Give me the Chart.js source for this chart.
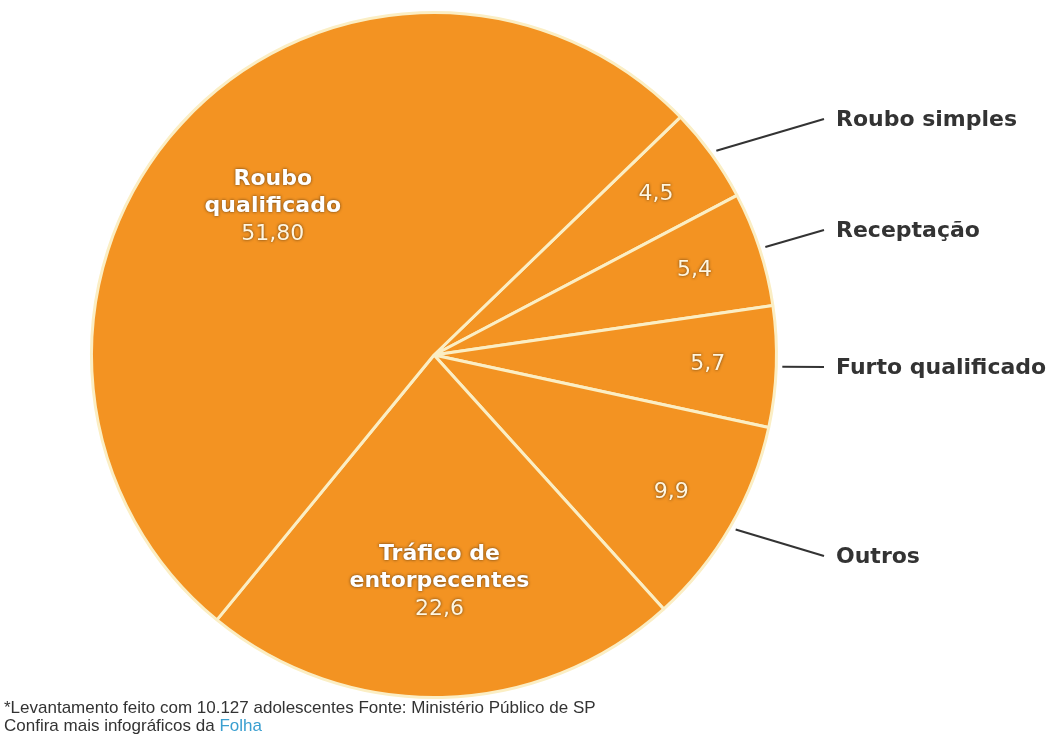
<!DOCTYPE html>
<html>
<head>
<meta charset="utf-8">
<script src="https://cdn.jsdelivr.net/npm/chart.js@4.4.0/dist/chart.umd.min.js"></script>
<style>
  html, body { margin: 0; padding: 0; background: #fff; }
  #wrap { position: relative; width: 1062px; height: 744px; }
  #note { position: absolute; left: 4px; top: 699px; font: 17px "Liberation Sans", Arial, sans-serif; color: #333; line-height: 18px; }
  #note span { color: #3a9fd0; }
</style>
</head>
<body>
<div id="wrap">
  <canvas id="pie" width="1062" height="744"></canvas>
  <div id="note">*Levantamento feito com 10.127 adolescentes Fonte: Ministério Público de SP<br>Confira mais infográficos da <span>Folha</span></div>
</div>
<script>
// data, clockwise from the Roubo simples slice
const categories = ['Roubo simples', 'Receptação', 'Furto qualificado', 'Outros', 'Tráfico de entorpecentes', 'Roubo qualificado'];
const values = [4.5, 5.4, 5.7, 9.9, 22.6, 51.8];
const valueLabels = ['4,5', '5,4', '5,7', '9,9', '22,6', '51,80'];
const insideTitles = [null, null, null, null, ['Tráfico de', 'entorpecentes'], ['Roubo', 'qualificado']];
const outsideLabels = [true, true, true, true, false, false];

// layout: where the labels sit
const insideRadius = [0.80, 0.80, 0.80, 0.80, 0.66, 0.64];
const outsideY = [119, 230, 367, 556];
const labelX = 836;

const orange = '#f39322';
const boldFont = 'bold 22px "DejaVu Sans", sans-serif';
const valueFont = '22px "DejaVu Sans", sans-serif';

function polar(arc, r, ang) {
  // chart.js angles: 0 = 3 o'clock, clockwise
  return { x: arc.x + r * Math.cos(ang), y: arc.y + r * Math.sin(ang) };
}

const labelPlugin = {
  id: 'sliceLabels',
  afterDatasetsDraw(chart) {
    const ctx = chart.ctx;
    const arcs = chart.getDatasetMeta(0).data;
    ctx.save();
    arcs.forEach((arc, i) => {
      const mid = (arc.startAngle + arc.endAngle) / 2;
      const R = arc.outerRadius;
      const c = polar(arc, R * insideRadius[i], mid);
      ctx.textAlign = 'center';
      ctx.textBaseline = 'middle';
      ctx.shadowColor = 'rgba(70,45,20,0.9)';
      ctx.shadowBlur = 3;
      if (insideTitles[i]) {
        const lines = insideTitles[i];
        const top = c.y - 27;
        ctx.font = boldFont;
        ctx.fillStyle = '#fff';
        lines.forEach((t, k) => ctx.fillText(t, c.x, top + k * 27));
        ctx.font = valueFont;
        ctx.fillStyle = '#fff6e0';
        ctx.fillText(valueLabels[i], c.x, top + lines.length * 27 + 1);
      } else {
        ctx.font = valueFont;
        ctx.fillStyle = '#fff6e0';
        ctx.fillText(valueLabels[i], c.x, c.y);
      }
      ctx.shadowBlur = 0;
      ctx.shadowColor = 'transparent';
      if (outsideLabels[i]) {
        const p = polar(arc, R + 6, mid);
        const ly = outsideY[i];
        ctx.strokeStyle = '#333';
        ctx.lineWidth = 2;
        ctx.beginPath();
        ctx.moveTo(p.x, p.y);
        ctx.lineTo(labelX - 12, ly);
        ctx.stroke();
        ctx.fillStyle = '#333';
        ctx.textAlign = 'left';
        ctx.font = boldFont;
        ctx.fillText(categories[i], labelX, ly + 1);
      }
    });
    ctx.restore();
  }
};

new Chart(document.getElementById('pie'), {
  type: 'pie',
  data: {
    labels: categories,
    datasets: [{
      data: values,
      backgroundColor: orange,
      borderColor: '#fbeec4',
      borderWidth: 3
    }]
  },
  options: {
    responsive: false,
    animation: false,
    rotation: 46,
    layout: { padding: { left: 90, right: 284, top: 11, bottom: 45 } },
    plugins: { legend: { display: false }, tooltip: { enabled: false } }
  },
  plugins: [labelPlugin]
});
</script>
</body>
</html>
